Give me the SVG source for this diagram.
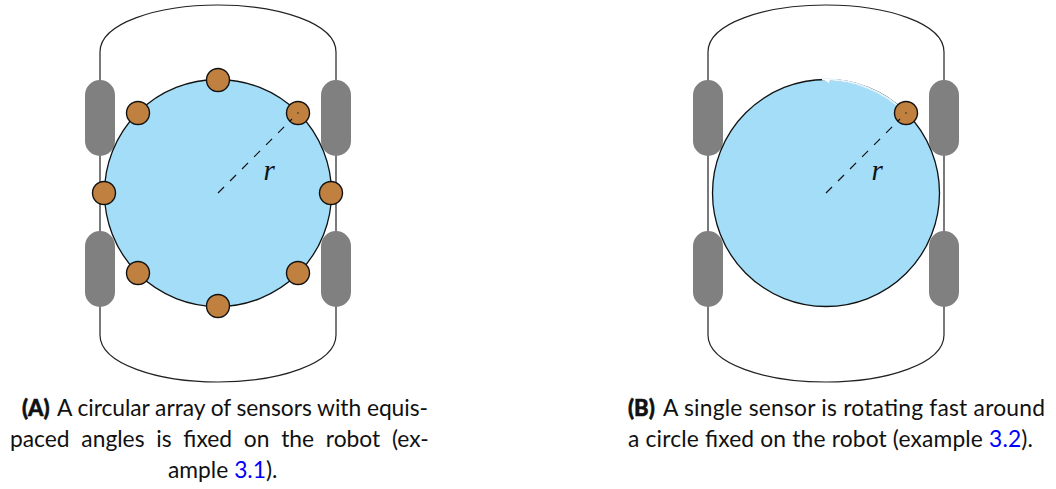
<svg xmlns="http://www.w3.org/2000/svg" width="1056" height="489" viewBox="0 0 1056 489">
<style>
.body{fill:#fff;stroke:#222;stroke-width:1.2}
.wheel{fill:#808080;stroke:none}
.disc{fill:#a3ddf8;stroke:#111;stroke-width:1.3}
.sensor{fill:#c08040;stroke:#111;stroke-width:1.4}
.radius{stroke:#111;stroke-width:1.2;stroke-dasharray:8.5 8.5;fill:none}
.pivot{fill:#111}
.sym{font-family:"Liberation Serif",serif;font-style:italic;font-size:29px;fill:#111}
.cap{font-family:Lato,"Open Sans",sans-serif;font-size:22.8px;fill:#111}
.tag{font-family:Lato,"Open Sans",sans-serif;font-size:22px;font-weight:900;fill:#111;stroke:#111;stroke-width:.5}
.ref{fill:#0000ff}
</style>
<defs>
<path id="chassis" class="body" d="M0,52 C0,23 58,5 118,5 C178,5 236,23 236,52 V335 C236,364 178,382 118,382 C58,382 0,364 0,335 Z"/>
<rect id="w" class="wheel" width="30" height="76" rx="15" ry="15"/>
<circle id="s" class="sensor" r="11.5"/>
</defs>
<g id="robot-a">
<use href="#chassis" x="100"/>
<use href="#w" x="85" y="80"/><use href="#w" x="321" y="80"/><use href="#w" x="85" y="231"/><use href="#w" x="321" y="231"/>
<circle class="disc" cx="218" cy="193" r="113.5"/>
</g>
<g id="sensors-a">
<use href="#s" x="218" y="80"/><use href="#s" x="138" y="113"/><use href="#s" x="298" y="113"/><use href="#s" x="104" y="193"/><use href="#s" x="331" y="193"/><use href="#s" x="138" y="273"/><use href="#s" x="298" y="273"/><use href="#s" x="218" y="306"/>
<circle class="pivot" cx="298" cy="113" r="0.7"/>
</g>
<g id="radius-a">
<path class="radius" d="M218,193 L292,119"/>
<text class="sym" x="263.5" y="180">r</text>
</g>
<g id="robot-b">
<use href="#chassis" x="708"/>
<use href="#w" x="693" y="80"/><use href="#w" x="929" y="80"/><use href="#w" x="693" y="231"/><use href="#w" x="929" y="231"/>
<circle class="disc" cx="826" cy="193" r="113.5"/>
<path d="M822,79.6 A113.5,113.5 0 0 1 906,113" fill="none" stroke="#e4f5fd" stroke-width="2"/>
<path d="M822,78.5 L830,78.5 L829,83 Z" fill="#fff"/>
</g>
<g id="sensor-b">
<use href="#s" x="906" y="113"/>
<circle class="pivot" cx="906" cy="113" r="0.7"/>
</g>
<g id="radius-b">
<path class="radius" d="M826,193 L900,119"/>
<text class="sym" x="871.5" y="180">r</text>
</g>
<g id="caption-a">
<text class="tag" x="22" y="416">(A)</text>
<text class="cap" x="57" y="416" textLength="371">A circular array of sensors with equis-</text>
<text class="cap" x="10" y="447" word-spacing="5.9">paced angles is fixed on the robot (ex-</text>
<text class="cap" x="168" y="478">ample <tspan class="ref">3.1</tspan>).</text>
</g>
<g id="caption-b">
<text class="tag" x="628" y="416">(B)</text>
<text class="cap" x="663" y="416" textLength="382">A single sensor is rotating fast around</text>
<text class="cap" x="628" y="447" textLength="405">a circle fixed on the robot (example <tspan class="ref">3.2</tspan>).</text>
</g>
</svg>
